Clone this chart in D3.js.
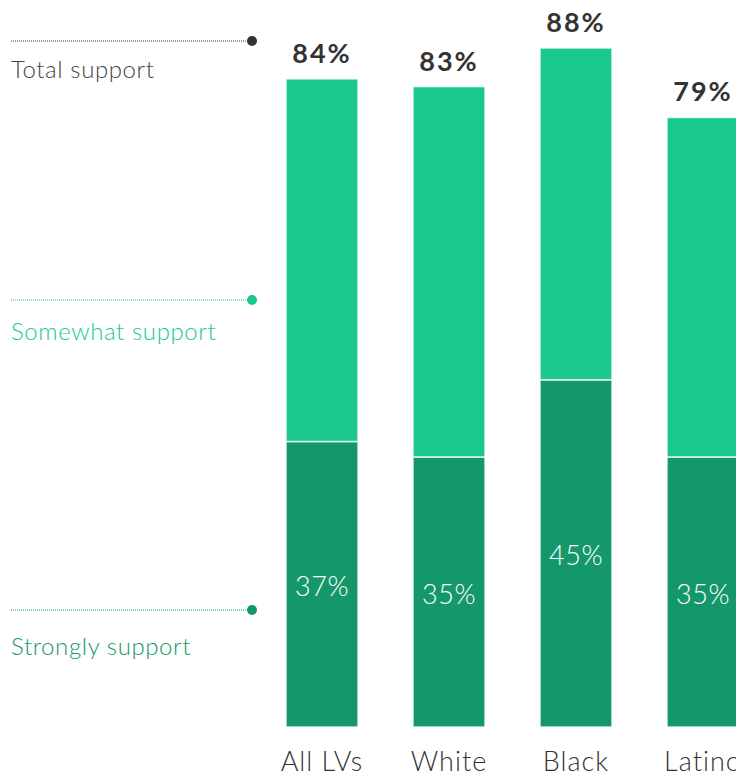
<!DOCTYPE html>
<html>
<head>
<meta charset="utf-8">
<script src="https://cdn.jsdelivr.net/npm/d3@7"></script>
<style>
  html, body { margin: 0; padding: 0; background: #fff; }
  svg { display: block; font-family: Lato, "Open Sans", sans-serif; }
</style>
</head>
<body>
<svg id="chart" width="736" height="776"></svg>
<script>
const categories = ["All LVs", "White", "Black", "Latino"];
const strongly = [37, 35, 45, 35];
const somewhat = [47, 48, 43, 44];
const totals = [84, 83, 88, 79];
const seriesNames = ["Strongly support", "Somewhat support"];
const legendLabels = ["Total support", "Somewhat support", "Strongly support"];

const colors = { strong: "#14976a", somewhat: "#1ac98c", text: "#333333", legendText: "#444444" };

const svg = d3.select("#chart");

// bar width 72, step 127
const xb = d3.scaleBand().domain(categories).range([286, 286 + 127 * 4 - 55]).paddingInner(55 / 127).paddingOuter(0);
const y = d3.scaleLinear().domain([0, 88]).range([727, 48]);

const data = categories.map((c, i) => ({ cat: c, "Strongly support": strongly[i], "Somewhat support": somewhat[i], total: totals[i] }));
const stack = d3.stack().keys(seriesNames)(data);
const fill = { "Strongly support": colors.strong, "Somewhat support": colors.somewhat };

const g = svg.append("g");
g.selectAll("g.series").data(stack).join("g")
  .attr("class", "series")
  .attr("fill", d => fill[d.key])
  .selectAll("rect").data(d => d).join("rect")
  .attr("x", d => xb(d.data.cat))
  .attr("y", d => y(d[1]))
  .attr("width", xb.bandwidth())
  .attr("height", d => y(d[0]) - y(d[1]))
  .attr("stroke", "#ffffff")
  .attr("stroke-opacity", 0.8)
  .attr("stroke-width", 1.5);

// strongly labels
g.selectAll("text.strong").data(data).join("text")
  .attr("class", "strong")
  .attr("x", d => xb(d.cat) + xb.bandwidth() / 2)
  .attr("y", d => (y(0) + y(d["Strongly support"])) / 2 + 12)
  .attr("text-anchor", "middle")
  .attr("fill", "#ffffff")
  .attr("font-size", 27)
  .attr("font-weight", 300)
  .attr("letter-spacing", 0.5)
  .text(d => d["Strongly support"] + "%");

// totals
g.selectAll("text.total").data(data).join("text")
  .attr("class", "total")
  .attr("x", d => xb(d.cat) + xb.bandwidth() / 2)
  .attr("y", d => y(d.total) - 16)
  .attr("text-anchor", "middle")
  .attr("fill", colors.text)
  .attr("font-size", 27)
  .attr("font-weight", 700)
  .attr("letter-spacing", 2)
  .text(d => d.total + "%");

// category axis labels
g.selectAll("text.cat").data(categories).join("text")
  .attr("class", "cat")
  .attr("x", d => xb(d) + xb.bandwidth() / 2)
  .attr("y", 771)
  .attr("text-anchor", "middle")
  .attr("fill", colors.text)
  .attr("font-size", 27)
  .attr("font-weight", 300)
  .attr("letter-spacing", 1)
  .text(d => d);

// legend
const legendY = [41, 300, 610];
const legendOffsets = [37, 40, 45];
const legendColors = ["#333333", colors.somewhat, colors.strong];
const legendTextColors = [colors.legendText, colors.somewhat, colors.strong];
const lg = svg.append("g");
legendLabels.forEach((lab, i) => {
  lg.append("line")
    .attr("x1", 11).attr("x2", 251)
    .attr("y1", legendY[i]).attr("y2", legendY[i])
    .attr("stroke", legendColors[i])
    .attr("stroke-width", 1)
    .attr("stroke-dasharray", "1,1");
  lg.append("circle")
    .attr("cx", 252).attr("cy", legendY[i]).attr("r", 5)
    .attr("fill", legendColors[i]);
  lg.append("text")
    .attr("x", 11)
    .attr("y", legendY[i] + legendOffsets[i])
    .attr("fill", legendTextColors[i])
    .attr("font-size", 24)
    .attr("font-weight", 300)
    .attr("letter-spacing", 0.6)
    .text(lab);
});
</script>
</body>
</html>
